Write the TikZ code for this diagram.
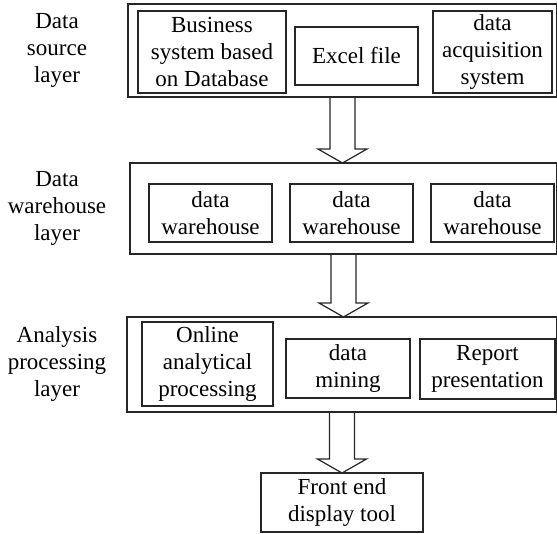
\documentclass[tikz,border=0pt]{standalone}
\usepackage{fontspec}
\setmainfont{Liberation Serif}
\usetikzlibrary{calc}
\newdimen\PX \PX=0.75pt
\newcommand\blockarrow[2]{%
  \coordinate (#1#2tip) at (#2.north -| #1.south);
  \draw[harrow] ($(#1.south)+(-12.5,0)$) -- ($(#1#2tip)+(-12.5,-14)$) -- ($(#1#2tip)+(-24.5,-14)$)
     -- (#1#2tip) -- ($(#1#2tip)+(24.5,-14)$) -- ($(#1#2tip)+(12.5,-14)$) -- ($(#1.south)+(12.5,0)$);}
\begin{document}
\begin{tikzpicture}[x=0.75pt,y=-0.75pt,
  box/.style={draw=black!85, line width=0.9pt, rectangle, inner sep=0pt, outer sep=0pt,
    anchor=north west, align=center, font=\fontsize{17.25}{20.25}\selectfont},
  lbl/.style={inner sep=0pt, align=center, font=\fontsize{17.25}{20.25}\selectfont},
  harrow/.style={draw=black!85, line width=0.9pt, line join=miter}]
\useasboundingbox (0,0) rectangle (557,534);

% layer 1
\node[box, minimum width=429\PX, minimum height=93\PX] (L1) at (128,4) {};
\node[box, minimum width=148\PX, minimum height=82\PX] (bus) at (138,11) {Business\\system based\\on Database};
\node[box, minimum width=123\PX, minimum height=58\PX] (excel) at (295,27) {Excel file};
\node[box, minimum width=119\PX, minimum height=82\PX] (acq) at (433,11) {data\\acquisition\\system};
\node[lbl] (t1) at (57,50.5) {Data\\source\\layer};

% layer 2
\node[box, minimum width=427\PX, minimum height=91\PX] (L2) at (130,163) {};
\node[box, minimum width=123\PX, minimum height=58\PX] (dw1) at (149,184) {data\\warehouse};
\node[box, minimum width=123\PX, minimum height=58\PX] (dw2) at (290,184) {data\\warehouse};
\node[box, minimum width=123\PX, minimum height=58\PX] (dw3) at (431,184) {data\\warehouse};
\node[lbl] (t2) at (57,208.5) {Data\\warehouse\\layer};

% layer 3
\node[box, minimum width=430\PX, minimum height=95\PX] (L3) at (127,317) {};
\node[box, minimum width=131\PX, minimum height=84\PX] (olap) at (142,322) {Online\\analytical\\processing};
\node[box, minimum width=124\PX, minimum height=59\PX] (mine) at (286,339) {data\\mining};
\node[box, minimum width=135\PX, minimum height=60\PX] (rep) at (420,339) {Report\\presentation};
\node[lbl] (t3) at (57,364.5) {Analysis\\processing\\layer};

% front end
\node[box, minimum width=162\PX, minimum height=59\PX] (fe) at (261,473) {Front end\\display tool};

\blockarrow{L1}{L2}
\blockarrow{L2}{L3}
\blockarrow{L3}{fe}
\end{tikzpicture}
\end{document}
